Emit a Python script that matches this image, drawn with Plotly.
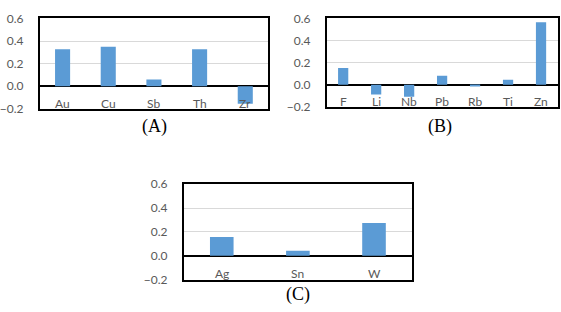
import plotly.graph_objects as go

cats_a = ["Au", "Cu", "Sb", "Th", "Zr"]
vals_a = [0.328, 0.35, 0.061, 0.328, -0.155]
cats_b = ["F", "Li", "Nb", "Pb", "Rb", "Ti", "Zn"]
vals_b = [0.152, -0.087, -0.107, 0.083, -0.015, 0.046, 0.565]
cats_c = ["Ag", "Sn", "W"]
vals_c = [0.157, 0.043, 0.275]
y_ticks = [-0.2, 0.0, 0.2, 0.4, 0.6]
panel_labels = ["(A)", "(B)", "(C)"]

W, H = 561, 312
BAR = "#5B9BD5"
GRAY = "#595959"
TICKFONT = dict(family="Lato, Liberation Sans, sans-serif", size=12, color=GRAY)

fig = go.Figure()

panels = [
    (cats_a, vals_a, "x", "y", [36, 266], [11, 106], 0.33),
    (cats_b, vals_b, "x2", "y2", [325, 557.5], [11, 104], 0.31),
    (cats_c, vals_c, "x3", "y3", [181, 411], [185, 285.5], 0.31),
]

layout = {}
annotations = []
for i, (cats, vals, xa, ya, xd, yd, bw) in enumerate(panels):
    fig.add_trace(go.Bar(x=cats, y=vals, xaxis=xa, yaxis=ya,
                         marker=dict(color=BAR, line=dict(width=0)),
                         width=bw, showlegend=False))
    xkey = "xaxis" if i == 0 else f"xaxis{i+1}"
    ykey = "yaxis" if i == 0 else f"yaxis{i+1}"
    layout[xkey] = dict(
        domain=[xd[0] / W, xd[1] / W], anchor=ya,
        showline=True, mirror=True, linecolor="black", linewidth=1.5,
        ticks="", showticklabels=False,
        showgrid=False, fixedrange=True,
    )
    layout[ykey] = dict(
        domain=[1 - yd[1] / H, 1 - yd[0] / H], anchor=xa,
        range=[-0.2, 0.6], tickvals=y_ticks, tickformat=".1f",
        showline=True, mirror=True, linecolor="black", linewidth=1.5,
        showgrid=True, gridcolor="#D9D9D9", gridwidth=1,
        zeroline=True, zerolinecolor="black", zerolinewidth=1.5,
        ticks="", ticklen=0, tickfont=TICKFONT, ticklabelstandoff=12,
    )
    for c in cats:
        annotations.append(dict(
            text=c, x=c, y=-0.15, xref=xa, yref=ya, showarrow=False,
            xanchor="center", yanchor="middle", font=TICKFONT,
        ))

label_pos = [(152, 125), (439, 125), (296, 301)]
for txt, (px, py) in zip(panel_labels, label_pos):
    annotations.append(dict(
        text=txt, x=px / W, y=1 - py / H, xref="paper", yref="paper",
        showarrow=False, xanchor="center", yanchor="middle",
        font=dict(family="Liberation Serif, Times New Roman, serif", size=18, color="black"),
    ))

fig.update_layout(
    width=W, height=H,
    margin=dict(l=0, r=0, t=0, b=0),
    paper_bgcolor="white", plot_bgcolor="white",
    annotations=annotations,
    **layout,
)

fig.write_html("out.html", config=dict(displayModeBar=False))
